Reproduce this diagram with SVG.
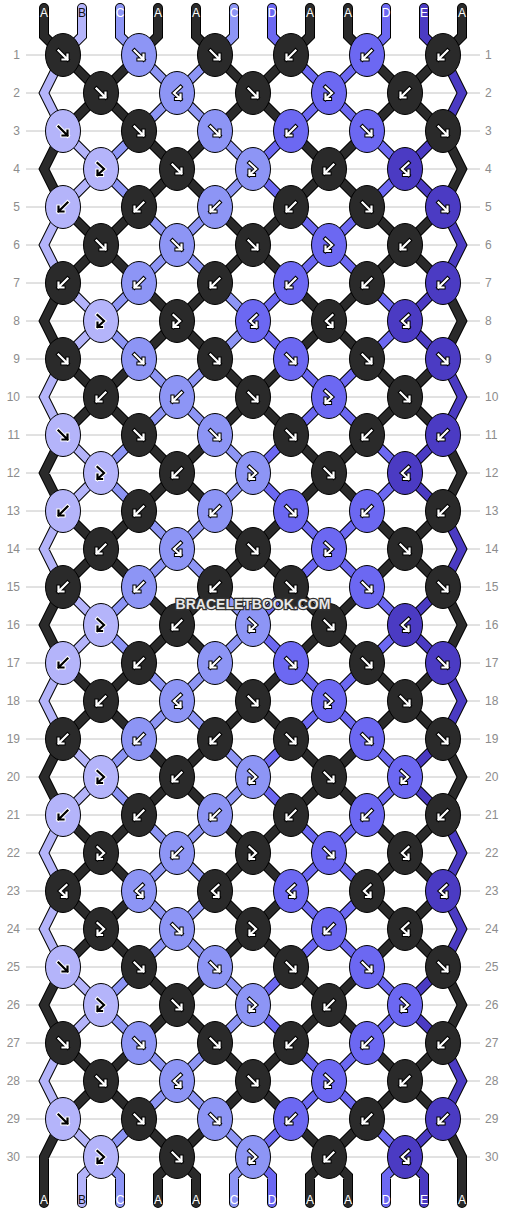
<svg xmlns="http://www.w3.org/2000/svg" width="506" height="1212" viewBox="0 0 506 1212">
<style>
.g{fill:none;stroke:#c4c4c4;stroke-width:1}
.n{font:12px "Liberation Sans",Arial,sans-serif;fill:#8c8c8c}
.nl{text-anchor:end}
.l{font:12px "Liberation Sans",Arial,sans-serif;text-anchor:middle;fill:#fff}
.lb{fill:#111}
ellipse{stroke:#000;stroke-width:1}
.kA{fill:#2a2a2a}.kB{fill:#b4b4fa}.kC{fill:#8d95f5}.kD{fill:#6c68f2}.kE{fill:#4b3bc3}
.so{fill:none;stroke:#000;stroke-width:10;stroke-linecap:round}
.si{fill:none;stroke-width:8;stroke-linecap:round}
.sA{stroke:#2a2a2a}.sB{stroke:#b4b4fa}.sC{stroke:#8d95f5}.sD{stroke:#6c68f2}.sE{stroke:#4b3bc3}
#knots use{stroke:#000;color:#fff}
#knots use.ba{stroke:#fff;color:#000}
.wm{font:bold 14px "Liberation Sans",Arial,sans-serif;text-anchor:middle;fill:#e8e8e8;stroke:#333;stroke-width:2.5;paint-order:stroke}
</style>
<defs>
<g id="af" fill="none" stroke-linecap="square"><path d="M-4.5-4.5L4.5 4.5M-.5 4.5H4.5V-.5" stroke-width="4.2"/><path d="M-4.5-4.5L4.5 4.5M-.5 4.5H4.5V-.5" stroke="currentColor" stroke-width="2.2"/></g>
<g id="ab" fill="none" stroke-linecap="square"><path d="M4.5-4.5L-4.5 4.5M.5 4.5H-4.5V-.5" stroke-width="4.2"/><path d="M4.5-4.5L-4.5 4.5M.5 4.5H-4.5V-.5" stroke="currentColor" stroke-width="2.2"/></g>
<g id="afb" fill="none" stroke-linecap="square"><path d="M-3.5-6L3 0L-3.5 6M1 6H-3.5V1.5" stroke-width="4.2"/><path d="M-3.5-6L3 0L-3.5 6M1 6H-3.5V1.5" stroke="currentColor" stroke-width="2.2"/></g>
<g id="abf" fill="none" stroke-linecap="square"><path d="M3.5-6L-3 0L3.5 6M-1 6H3.5V1.5" stroke-width="4.2"/><path d="M3.5-6L-3 0L3.5 6M-1 6H3.5V1.5" stroke="currentColor" stroke-width="2.2"/></g>
<path id="bo" d="M63 0L44 38L63 76M63 0L101 38L63 76M139 0L101 38L139 76M139 0L177 38L139 76M215 0L177 38L215 76M215 0L253 38L215 76M291 0L253 38L291 76M291 0L329 38L291 76M367 0L329 38L367 76M367 0L405 38L367 76M443 0L405 38L443 76M443 0L462 38L443 76"/>
<g id="b0">
<path class="sA" d="M63 0L44 38L63 76M139 0L177 38L139 76M215 0L177 38L215 76M291 0L329 38L291 76M367 0L329 38L367 76M443 0L462 38L443 76"/>
<path class="sB" d="M63 0L101 38L63 76"/>
<path class="sC" d="M139 0L101 38L139 76M215 0L253 38L215 76"/>
<path class="sD" d="M291 0L253 38L291 76M367 0L405 38L367 76"/>
<path class="sE" d="M443 0L405 38L443 76"/>
</g>
<g id="b1">
<path class="sB" d="M63 0L44 38L63 76"/>
<path class="sA" d="M63 0L101 38L63 76M139 0L101 38L139 76M215 0L253 38L215 76M291 0L253 38L291 76M367 0L405 38L367 76M443 0L405 38L443 76"/>
<path class="sC" d="M139 0L177 38L139 76M215 0L177 38L215 76"/>
<path class="sD" d="M291 0L329 38L291 76M367 0L329 38L367 76"/>
<path class="sE" d="M443 0L462 38L443 76"/>
</g>
</defs>
<rect width="506" height="1212" fill="#fff"/>
<path class="g" d="M26 55H480M26 93H480M26 131H480M26 169H480M26 207H480M26 245H480M26 283H480M26 321H480M26 359H480M26 397H480M26 435H480M26 473H480M26 511H480M26 549H480M26 587H480M26 625H480M26 663H480M26 701H480M26 739H480M26 777H480M26 815H480M26 853H480M26 891H480M26 929H480M26 967H480M26 1005H480M26 1043H480M26 1081H480M26 1119H480M26 1157H480"/>
<g id="rownums" class="n">
<text class="nl" x="20" y="59">1</text><text x="485" y="59">1</text>
<text class="nl" x="20" y="97">2</text><text x="485" y="97">2</text>
<text class="nl" x="20" y="135">3</text><text x="485" y="135">3</text>
<text class="nl" x="20" y="173">4</text><text x="485" y="173">4</text>
<text class="nl" x="20" y="211">5</text><text x="485" y="211">5</text>
<text class="nl" x="20" y="249">6</text><text x="485" y="249">6</text>
<text class="nl" x="20" y="287">7</text><text x="485" y="287">7</text>
<text class="nl" x="20" y="325">8</text><text x="485" y="325">8</text>
<text class="nl" x="20" y="363">9</text><text x="485" y="363">9</text>
<text class="nl" x="20" y="401">10</text><text x="485" y="401">10</text>
<text class="nl" x="20" y="439">11</text><text x="485" y="439">11</text>
<text class="nl" x="20" y="477">12</text><text x="485" y="477">12</text>
<text class="nl" x="20" y="515">13</text><text x="485" y="515">13</text>
<text class="nl" x="20" y="553">14</text><text x="485" y="553">14</text>
<text class="nl" x="20" y="591">15</text><text x="485" y="591">15</text>
<text class="nl" x="20" y="629">16</text><text x="485" y="629">16</text>
<text class="nl" x="20" y="667">17</text><text x="485" y="667">17</text>
<text class="nl" x="20" y="705">18</text><text x="485" y="705">18</text>
<text class="nl" x="20" y="743">19</text><text x="485" y="743">19</text>
<text class="nl" x="20" y="781">20</text><text x="485" y="781">20</text>
<text class="nl" x="20" y="819">21</text><text x="485" y="819">21</text>
<text class="nl" x="20" y="857">22</text><text x="485" y="857">22</text>
<text class="nl" x="20" y="895">23</text><text x="485" y="895">23</text>
<text class="nl" x="20" y="933">24</text><text x="485" y="933">24</text>
<text class="nl" x="20" y="971">25</text><text x="485" y="971">25</text>
<text class="nl" x="20" y="1009">26</text><text x="485" y="1009">26</text>
<text class="nl" x="20" y="1047">27</text><text x="485" y="1047">27</text>
<text class="nl" x="20" y="1085">28</text><text x="485" y="1085">28</text>
<text class="nl" x="20" y="1123">29</text><text x="485" y="1123">29</text>
<text class="nl" x="20" y="1161">30</text><text x="485" y="1161">30</text>
</g>
<g id="connectors">
<g class="so">
<path d="M44 8V36L63 55M82 8V36L63 55M120 8V36L139 55M158 8V36L139 55M196 8V36L215 55M234 8V36L215 55M272 8V36L291 55M310 8V36L291 55M348 8V36L367 55M386 8V36L367 55M424 8V36L443 55M462 8V36L443 55"/>
<use href="#bo" y="55"/><use href="#bo" y="131"/><use href="#bo" y="207"/><use href="#bo" y="283"/><use href="#bo" y="359"/><use href="#bo" y="435"/><use href="#bo" y="511"/><use href="#bo" y="587"/><use href="#bo" y="663"/><use href="#bo" y="739"/><use href="#bo" y="815"/><use href="#bo" y="891"/><use href="#bo" y="967"/><use href="#bo" y="1043"/>
<path d="M63 1119L44 1157V1203M63 1119L101 1157L82 1176V1203M139 1119L101 1157L120 1176V1203M139 1119L177 1157L158 1176V1203M215 1119L177 1157L196 1176V1203M215 1119L253 1157L234 1176V1203M291 1119L253 1157L272 1176V1203M291 1119L329 1157L310 1176V1203M367 1119L329 1157L348 1176V1203M367 1119L405 1157L386 1176V1203M443 1119L405 1157L424 1176V1203M443 1119L462 1157V1203"/>
</g>
<g class="si">
<path class="sA" d="M44 8V36L63 55M158 8V36L139 55M196 8V36L215 55M310 8V36L291 55M348 8V36L367 55M462 8V36L443 55"/>
<path class="sB" d="M82 8V36L63 55"/>
<path class="sC" d="M120 8V36L139 55M234 8V36L215 55"/>
<path class="sD" d="M272 8V36L291 55M386 8V36L367 55"/>
<path class="sE" d="M424 8V36L443 55"/>
<use href="#b1" y="55"/><use href="#b0" y="131"/><use href="#b1" y="207"/><use href="#b0" y="283"/><use href="#b1" y="359"/><use href="#b0" y="435"/><use href="#b1" y="511"/><use href="#b0" y="587"/><use href="#b1" y="663"/><use href="#b0" y="739"/><use href="#b1" y="815"/><use href="#b1" y="891"/><use href="#b0" y="967"/><use href="#b1" y="1043"/>
<path class="sA" d="M63 1119L44 1157V1203M139 1119L177 1157L158 1176V1203M215 1119L177 1157L196 1176V1203M291 1119L329 1157L310 1176V1203M367 1119L329 1157L348 1176V1203M443 1119L462 1157V1203"/>
<path class="sB" d="M63 1119L101 1157L82 1176V1203"/>
<path class="sC" d="M139 1119L101 1157L120 1176V1203M215 1119L253 1157L234 1176V1203"/>
<path class="sD" d="M291 1119L253 1157L272 1176V1203M367 1119L405 1157L386 1176V1203"/>
<path class="sE" d="M443 1119L405 1157L424 1176V1203"/>
</g>
</g>
<g id="labels" class="l">
<text x="44" y="17">A</text><text class="lb" x="82" y="17">B</text><text x="120" y="17">C</text><text x="158" y="17">A</text><text x="196" y="17">A</text><text x="234" y="17">C</text><text x="272" y="17">D</text><text x="310" y="17">A</text><text x="348" y="17">A</text><text x="386" y="17">D</text><text x="424" y="17">E</text><text x="462" y="17">A</text>
<text x="44" y="1204">A</text><text class="lb" x="82" y="1204">B</text><text x="120" y="1204">C</text><text x="158" y="1204">A</text><text x="196" y="1204">A</text><text x="234" y="1204">C</text><text x="272" y="1204">D</text><text x="310" y="1204">A</text><text x="348" y="1204">A</text><text x="386" y="1204">D</text><text x="424" y="1204">E</text><text x="462" y="1204">A</text>
</g>
<g id="knots">
<g id="k1-1" transform="translate(63 55)"><ellipse class="kA" rx="17.5" ry="21.5"/><use href="#af"/></g>
<g id="k1-2" transform="translate(139 55)"><ellipse class="kC" rx="17.5" ry="21.5"/><use href="#af"/></g>
<g id="k1-3" transform="translate(215 55)"><ellipse class="kA" rx="17.5" ry="21.5"/><use href="#af"/></g>
<g id="k1-4" transform="translate(291 55)"><ellipse class="kA" rx="17.5" ry="21.5"/><use href="#ab"/></g>
<g id="k1-5" transform="translate(367 55)"><ellipse class="kD" rx="17.5" ry="21.5"/><use href="#ab"/></g>
<g id="k1-6" transform="translate(443 55)"><ellipse class="kA" rx="17.5" ry="21.5"/><use href="#ab"/></g>
<g id="k2-1" transform="translate(101 93)"><ellipse class="kA" rx="17.5" ry="21.5"/><use href="#af"/></g>
<g id="k2-2" transform="translate(177 93)"><ellipse class="kC" rx="17.5" ry="21.5"/><use href="#abf"/></g>
<g id="k2-3" transform="translate(253 93)"><ellipse class="kA" rx="17.5" ry="21.5"/><use href="#af"/></g>
<g id="k2-4" transform="translate(329 93)"><ellipse class="kD" rx="17.5" ry="21.5"/><use href="#afb"/></g>
<g id="k2-5" transform="translate(405 93)"><ellipse class="kA" rx="17.5" ry="21.5"/><use href="#ab"/></g>
<g id="k3-1" transform="translate(63 131)"><ellipse class="kB" rx="17.5" ry="21.5"/><use class="ba" href="#af"/></g>
<g id="k3-2" transform="translate(139 131)"><ellipse class="kA" rx="17.5" ry="21.5"/><use href="#af"/></g>
<g id="k3-3" transform="translate(215 131)"><ellipse class="kC" rx="17.5" ry="21.5"/><use href="#af"/></g>
<g id="k3-4" transform="translate(291 131)"><ellipse class="kD" rx="17.5" ry="21.5"/><use href="#ab"/></g>
<g id="k3-5" transform="translate(367 131)"><ellipse class="kD" rx="17.5" ry="21.5"/><use href="#af"/></g>
<g id="k3-6" transform="translate(443 131)"><ellipse class="kA" rx="17.5" ry="21.5"/><use href="#af"/></g>
<g id="k4-1" transform="translate(101 169)"><ellipse class="kB" rx="17.5" ry="21.5"/><use class="ba" href="#afb"/></g>
<g id="k4-2" transform="translate(177 169)"><ellipse class="kA" rx="17.5" ry="21.5"/><use href="#af"/></g>
<g id="k4-3" transform="translate(253 169)"><ellipse class="kC" rx="17.5" ry="21.5"/><use href="#afb"/></g>
<g id="k4-4" transform="translate(329 169)"><ellipse class="kA" rx="17.5" ry="21.5"/><use href="#ab"/></g>
<g id="k4-5" transform="translate(405 169)"><ellipse class="kE" rx="17.5" ry="21.5"/><use href="#abf"/></g>
<g id="k5-1" transform="translate(63 207)"><ellipse class="kB" rx="17.5" ry="21.5"/><use class="ba" href="#ab"/></g>
<g id="k5-2" transform="translate(139 207)"><ellipse class="kA" rx="17.5" ry="21.5"/><use href="#ab"/></g>
<g id="k5-3" transform="translate(215 207)"><ellipse class="kC" rx="17.5" ry="21.5"/><use href="#ab"/></g>
<g id="k5-4" transform="translate(291 207)"><ellipse class="kA" rx="17.5" ry="21.5"/><use href="#ab"/></g>
<g id="k5-5" transform="translate(367 207)"><ellipse class="kA" rx="17.5" ry="21.5"/><use href="#af"/></g>
<g id="k5-6" transform="translate(443 207)"><ellipse class="kE" rx="17.5" ry="21.5"/><use href="#af"/></g>
<g id="k6-1" transform="translate(101 245)"><ellipse class="kA" rx="17.5" ry="21.5"/><use href="#af"/></g>
<g id="k6-2" transform="translate(177 245)"><ellipse class="kC" rx="17.5" ry="21.5"/><use href="#af"/></g>
<g id="k6-3" transform="translate(253 245)"><ellipse class="kA" rx="17.5" ry="21.5"/><use href="#af"/></g>
<g id="k6-4" transform="translate(329 245)"><ellipse class="kD" rx="17.5" ry="21.5"/><use href="#afb"/></g>
<g id="k6-5" transform="translate(405 245)"><ellipse class="kA" rx="17.5" ry="21.5"/><use href="#ab"/></g>
<g id="k7-1" transform="translate(63 283)"><ellipse class="kA" rx="17.5" ry="21.5"/><use href="#ab"/></g>
<g id="k7-2" transform="translate(139 283)"><ellipse class="kC" rx="17.5" ry="21.5"/><use href="#ab"/></g>
<g id="k7-3" transform="translate(215 283)"><ellipse class="kA" rx="17.5" ry="21.5"/><use href="#ab"/></g>
<g id="k7-4" transform="translate(291 283)"><ellipse class="kD" rx="17.5" ry="21.5"/><use href="#ab"/></g>
<g id="k7-5" transform="translate(367 283)"><ellipse class="kA" rx="17.5" ry="21.5"/><use href="#ab"/></g>
<g id="k7-6" transform="translate(443 283)"><ellipse class="kE" rx="17.5" ry="21.5"/><use href="#ab"/></g>
<g id="k8-1" transform="translate(101 321)"><ellipse class="kB" rx="17.5" ry="21.5"/><use class="ba" href="#afb"/></g>
<g id="k8-2" transform="translate(177 321)"><ellipse class="kA" rx="17.5" ry="21.5"/><use href="#afb"/></g>
<g id="k8-3" transform="translate(253 321)"><ellipse class="kD" rx="17.5" ry="21.5"/><use href="#abf"/></g>
<g id="k8-4" transform="translate(329 321)"><ellipse class="kA" rx="17.5" ry="21.5"/><use href="#abf"/></g>
<g id="k8-5" transform="translate(405 321)"><ellipse class="kE" rx="17.5" ry="21.5"/><use href="#abf"/></g>
<g id="k9-1" transform="translate(63 359)"><ellipse class="kA" rx="17.5" ry="21.5"/><use href="#af"/></g>
<g id="k9-2" transform="translate(139 359)"><ellipse class="kC" rx="17.5" ry="21.5"/><use href="#af"/></g>
<g id="k9-3" transform="translate(215 359)"><ellipse class="kA" rx="17.5" ry="21.5"/><use href="#af"/></g>
<g id="k9-4" transform="translate(291 359)"><ellipse class="kD" rx="17.5" ry="21.5"/><use href="#af"/></g>
<g id="k9-5" transform="translate(367 359)"><ellipse class="kA" rx="17.5" ry="21.5"/><use href="#af"/></g>
<g id="k9-6" transform="translate(443 359)"><ellipse class="kE" rx="17.5" ry="21.5"/><use href="#af"/></g>
<g id="k10-1" transform="translate(101 397)"><ellipse class="kA" rx="17.5" ry="21.5"/><use href="#ab"/></g>
<g id="k10-2" transform="translate(177 397)"><ellipse class="kC" rx="17.5" ry="21.5"/><use href="#ab"/></g>
<g id="k10-3" transform="translate(253 397)"><ellipse class="kA" rx="17.5" ry="21.5"/><use href="#af"/></g>
<g id="k10-4" transform="translate(329 397)"><ellipse class="kD" rx="17.5" ry="21.5"/><use href="#afb"/></g>
<g id="k10-5" transform="translate(405 397)"><ellipse class="kA" rx="17.5" ry="21.5"/><use href="#af"/></g>
<g id="k11-1" transform="translate(63 435)"><ellipse class="kB" rx="17.5" ry="21.5"/><use class="ba" href="#af"/></g>
<g id="k11-2" transform="translate(139 435)"><ellipse class="kA" rx="17.5" ry="21.5"/><use href="#af"/></g>
<g id="k11-3" transform="translate(215 435)"><ellipse class="kC" rx="17.5" ry="21.5"/><use href="#af"/></g>
<g id="k11-4" transform="translate(291 435)"><ellipse class="kA" rx="17.5" ry="21.5"/><use href="#af"/></g>
<g id="k11-5" transform="translate(367 435)"><ellipse class="kA" rx="17.5" ry="21.5"/><use href="#ab"/></g>
<g id="k11-6" transform="translate(443 435)"><ellipse class="kE" rx="17.5" ry="21.5"/><use href="#ab"/></g>
<g id="k12-1" transform="translate(101 473)"><ellipse class="kB" rx="17.5" ry="21.5"/><use class="ba" href="#afb"/></g>
<g id="k12-2" transform="translate(177 473)"><ellipse class="kA" rx="17.5" ry="21.5"/><use href="#ab"/></g>
<g id="k12-3" transform="translate(253 473)"><ellipse class="kC" rx="17.5" ry="21.5"/><use href="#afb"/></g>
<g id="k12-4" transform="translate(329 473)"><ellipse class="kA" rx="17.5" ry="21.5"/><use href="#af"/></g>
<g id="k12-5" transform="translate(405 473)"><ellipse class="kE" rx="17.5" ry="21.5"/><use href="#abf"/></g>
<g id="k13-1" transform="translate(63 511)"><ellipse class="kB" rx="17.5" ry="21.5"/><use class="ba" href="#ab"/></g>
<g id="k13-2" transform="translate(139 511)"><ellipse class="kA" rx="17.5" ry="21.5"/><use href="#ab"/></g>
<g id="k13-3" transform="translate(215 511)"><ellipse class="kC" rx="17.5" ry="21.5"/><use href="#ab"/></g>
<g id="k13-4" transform="translate(291 511)"><ellipse class="kD" rx="17.5" ry="21.5"/><use href="#af"/></g>
<g id="k13-5" transform="translate(367 511)"><ellipse class="kD" rx="17.5" ry="21.5"/><use href="#ab"/></g>
<g id="k13-6" transform="translate(443 511)"><ellipse class="kA" rx="17.5" ry="21.5"/><use href="#ab"/></g>
<g id="k14-1" transform="translate(101 549)"><ellipse class="kA" rx="17.5" ry="21.5"/><use href="#ab"/></g>
<g id="k14-2" transform="translate(177 549)"><ellipse class="kC" rx="17.5" ry="21.5"/><use href="#abf"/></g>
<g id="k14-3" transform="translate(253 549)"><ellipse class="kA" rx="17.5" ry="21.5"/><use href="#af"/></g>
<g id="k14-4" transform="translate(329 549)"><ellipse class="kD" rx="17.5" ry="21.5"/><use href="#afb"/></g>
<g id="k14-5" transform="translate(405 549)"><ellipse class="kA" rx="17.5" ry="21.5"/><use href="#af"/></g>
<g id="k15-1" transform="translate(63 587)"><ellipse class="kA" rx="17.5" ry="21.5"/><use href="#ab"/></g>
<g id="k15-2" transform="translate(139 587)"><ellipse class="kC" rx="17.5" ry="21.5"/><use href="#ab"/></g>
<g id="k15-3" transform="translate(215 587)"><ellipse class="kA" rx="17.5" ry="21.5"/><use href="#ab"/></g>
<g id="k15-4" transform="translate(291 587)"><ellipse class="kA" rx="17.5" ry="21.5"/><use href="#af"/></g>
<g id="k15-5" transform="translate(367 587)"><ellipse class="kD" rx="17.5" ry="21.5"/><use href="#af"/></g>
<g id="k15-6" transform="translate(443 587)"><ellipse class="kA" rx="17.5" ry="21.5"/><use href="#af"/></g>
<g id="k16-1" transform="translate(101 625)"><ellipse class="kB" rx="17.5" ry="21.5"/><use class="ba" href="#afb"/></g>
<g id="k16-2" transform="translate(177 625)"><ellipse class="kA" rx="17.5" ry="21.5"/><use href="#ab"/></g>
<g id="k16-3" transform="translate(253 625)"><ellipse class="kC" rx="17.5" ry="21.5"/><use href="#afb"/></g>
<g id="k16-4" transform="translate(329 625)"><ellipse class="kA" rx="17.5" ry="21.5"/><use href="#af"/></g>
<g id="k16-5" transform="translate(405 625)"><ellipse class="kE" rx="17.5" ry="21.5"/><use href="#abf"/></g>
<g id="k17-1" transform="translate(63 663)"><ellipse class="kB" rx="17.5" ry="21.5"/><use class="ba" href="#ab"/></g>
<g id="k17-2" transform="translate(139 663)"><ellipse class="kA" rx="17.5" ry="21.5"/><use href="#ab"/></g>
<g id="k17-3" transform="translate(215 663)"><ellipse class="kC" rx="17.5" ry="21.5"/><use href="#ab"/></g>
<g id="k17-4" transform="translate(291 663)"><ellipse class="kD" rx="17.5" ry="21.5"/><use href="#af"/></g>
<g id="k17-5" transform="translate(367 663)"><ellipse class="kA" rx="17.5" ry="21.5"/><use href="#af"/></g>
<g id="k17-6" transform="translate(443 663)"><ellipse class="kE" rx="17.5" ry="21.5"/><use href="#af"/></g>
<g id="k18-1" transform="translate(101 701)"><ellipse class="kA" rx="17.5" ry="21.5"/><use href="#ab"/></g>
<g id="k18-2" transform="translate(177 701)"><ellipse class="kC" rx="17.5" ry="21.5"/><use href="#abf"/></g>
<g id="k18-3" transform="translate(253 701)"><ellipse class="kA" rx="17.5" ry="21.5"/><use href="#af"/></g>
<g id="k18-4" transform="translate(329 701)"><ellipse class="kD" rx="17.5" ry="21.5"/><use href="#afb"/></g>
<g id="k18-5" transform="translate(405 701)"><ellipse class="kA" rx="17.5" ry="21.5"/><use href="#af"/></g>
<g id="k19-1" transform="translate(63 739)"><ellipse class="kA" rx="17.5" ry="21.5"/><use href="#ab"/></g>
<g id="k19-2" transform="translate(139 739)"><ellipse class="kC" rx="17.5" ry="21.5"/><use href="#ab"/></g>
<g id="k19-3" transform="translate(215 739)"><ellipse class="kA" rx="17.5" ry="21.5"/><use href="#ab"/></g>
<g id="k19-4" transform="translate(291 739)"><ellipse class="kA" rx="17.5" ry="21.5"/><use href="#af"/></g>
<g id="k19-5" transform="translate(367 739)"><ellipse class="kD" rx="17.5" ry="21.5"/><use href="#af"/></g>
<g id="k19-6" transform="translate(443 739)"><ellipse class="kA" rx="17.5" ry="21.5"/><use href="#af"/></g>
<g id="k20-1" transform="translate(101 777)"><ellipse class="kB" rx="17.5" ry="21.5"/><use class="ba" href="#afb"/></g>
<g id="k20-2" transform="translate(177 777)"><ellipse class="kA" rx="17.5" ry="21.5"/><use href="#ab"/></g>
<g id="k20-3" transform="translate(253 777)"><ellipse class="kC" rx="17.5" ry="21.5"/><use href="#afb"/></g>
<g id="k20-4" transform="translate(329 777)"><ellipse class="kA" rx="17.5" ry="21.5"/><use href="#af"/></g>
<g id="k20-5" transform="translate(405 777)"><ellipse class="kD" rx="17.5" ry="21.5"/><use href="#afb"/></g>
<g id="k21-1" transform="translate(63 815)"><ellipse class="kB" rx="17.5" ry="21.5"/><use class="ba" href="#ab"/></g>
<g id="k21-2" transform="translate(139 815)"><ellipse class="kA" rx="17.5" ry="21.5"/><use href="#ab"/></g>
<g id="k21-3" transform="translate(215 815)"><ellipse class="kC" rx="17.5" ry="21.5"/><use href="#ab"/></g>
<g id="k21-4" transform="translate(291 815)"><ellipse class="kA" rx="17.5" ry="21.5"/><use href="#ab"/></g>
<g id="k21-5" transform="translate(367 815)"><ellipse class="kD" rx="17.5" ry="21.5"/><use href="#ab"/></g>
<g id="k21-6" transform="translate(443 815)"><ellipse class="kA" rx="17.5" ry="21.5"/><use href="#ab"/></g>
<g id="k22-1" transform="translate(101 853)"><ellipse class="kA" rx="17.5" ry="21.5"/><use href="#afb"/></g>
<g id="k22-2" transform="translate(177 853)"><ellipse class="kC" rx="17.5" ry="21.5"/><use href="#ab"/></g>
<g id="k22-3" transform="translate(253 853)"><ellipse class="kA" rx="17.5" ry="21.5"/><use href="#afb"/></g>
<g id="k22-4" transform="translate(329 853)"><ellipse class="kD" rx="17.5" ry="21.5"/><use href="#af"/></g>
<g id="k22-5" transform="translate(405 853)"><ellipse class="kA" rx="17.5" ry="21.5"/><use href="#abf"/></g>
<g id="k23-1" transform="translate(63 891)"><ellipse class="kA" rx="17.5" ry="21.5"/><use href="#abf"/></g>
<g id="k23-2" transform="translate(139 891)"><ellipse class="kC" rx="17.5" ry="21.5"/><use href="#abf"/></g>
<g id="k23-3" transform="translate(215 891)"><ellipse class="kA" rx="17.5" ry="21.5"/><use href="#abf"/></g>
<g id="k23-4" transform="translate(291 891)"><ellipse class="kD" rx="17.5" ry="21.5"/><use href="#abf"/></g>
<g id="k23-5" transform="translate(367 891)"><ellipse class="kA" rx="17.5" ry="21.5"/><use href="#abf"/></g>
<g id="k23-6" transform="translate(443 891)"><ellipse class="kE" rx="17.5" ry="21.5"/><use href="#abf"/></g>
<g id="k24-1" transform="translate(101 929)"><ellipse class="kA" rx="17.5" ry="21.5"/><use href="#afb"/></g>
<g id="k24-2" transform="translate(177 929)"><ellipse class="kC" rx="17.5" ry="21.5"/><use href="#af"/></g>
<g id="k24-3" transform="translate(253 929)"><ellipse class="kA" rx="17.5" ry="21.5"/><use href="#afb"/></g>
<g id="k24-4" transform="translate(329 929)"><ellipse class="kD" rx="17.5" ry="21.5"/><use href="#ab"/></g>
<g id="k24-5" transform="translate(405 929)"><ellipse class="kA" rx="17.5" ry="21.5"/><use href="#abf"/></g>
<g id="k25-1" transform="translate(63 967)"><ellipse class="kB" rx="17.5" ry="21.5"/><use class="ba" href="#af"/></g>
<g id="k25-2" transform="translate(139 967)"><ellipse class="kA" rx="17.5" ry="21.5"/><use href="#af"/></g>
<g id="k25-3" transform="translate(215 967)"><ellipse class="kC" rx="17.5" ry="21.5"/><use href="#af"/></g>
<g id="k25-4" transform="translate(291 967)"><ellipse class="kA" rx="17.5" ry="21.5"/><use href="#af"/></g>
<g id="k25-5" transform="translate(367 967)"><ellipse class="kD" rx="17.5" ry="21.5"/><use href="#af"/></g>
<g id="k25-6" transform="translate(443 967)"><ellipse class="kA" rx="17.5" ry="21.5"/><use href="#af"/></g>
<g id="k26-1" transform="translate(101 1005)"><ellipse class="kB" rx="17.5" ry="21.5"/><use class="ba" href="#afb"/></g>
<g id="k26-2" transform="translate(177 1005)"><ellipse class="kA" rx="17.5" ry="21.5"/><use href="#af"/></g>
<g id="k26-3" transform="translate(253 1005)"><ellipse class="kC" rx="17.5" ry="21.5"/><use href="#afb"/></g>
<g id="k26-4" transform="translate(329 1005)"><ellipse class="kA" rx="17.5" ry="21.5"/><use href="#ab"/></g>
<g id="k26-5" transform="translate(405 1005)"><ellipse class="kD" rx="17.5" ry="21.5"/><use href="#afb"/></g>
<g id="k27-1" transform="translate(63 1043)"><ellipse class="kA" rx="17.5" ry="21.5"/><use href="#af"/></g>
<g id="k27-2" transform="translate(139 1043)"><ellipse class="kC" rx="17.5" ry="21.5"/><use href="#af"/></g>
<g id="k27-3" transform="translate(215 1043)"><ellipse class="kA" rx="17.5" ry="21.5"/><use href="#af"/></g>
<g id="k27-4" transform="translate(291 1043)"><ellipse class="kA" rx="17.5" ry="21.5"/><use href="#ab"/></g>
<g id="k27-5" transform="translate(367 1043)"><ellipse class="kD" rx="17.5" ry="21.5"/><use href="#ab"/></g>
<g id="k27-6" transform="translate(443 1043)"><ellipse class="kA" rx="17.5" ry="21.5"/><use href="#ab"/></g>
<g id="k28-1" transform="translate(101 1081)"><ellipse class="kA" rx="17.5" ry="21.5"/><use href="#af"/></g>
<g id="k28-2" transform="translate(177 1081)"><ellipse class="kC" rx="17.5" ry="21.5"/><use href="#abf"/></g>
<g id="k28-3" transform="translate(253 1081)"><ellipse class="kA" rx="17.5" ry="21.5"/><use href="#af"/></g>
<g id="k28-4" transform="translate(329 1081)"><ellipse class="kD" rx="17.5" ry="21.5"/><use href="#afb"/></g>
<g id="k28-5" transform="translate(405 1081)"><ellipse class="kA" rx="17.5" ry="21.5"/><use href="#ab"/></g>
<g id="k29-1" transform="translate(63 1119)"><ellipse class="kB" rx="17.5" ry="21.5"/><use class="ba" href="#af"/></g>
<g id="k29-2" transform="translate(139 1119)"><ellipse class="kA" rx="17.5" ry="21.5"/><use href="#af"/></g>
<g id="k29-3" transform="translate(215 1119)"><ellipse class="kC" rx="17.5" ry="21.5"/><use href="#af"/></g>
<g id="k29-4" transform="translate(291 1119)"><ellipse class="kD" rx="17.5" ry="21.5"/><use href="#ab"/></g>
<g id="k29-5" transform="translate(367 1119)"><ellipse class="kA" rx="17.5" ry="21.5"/><use href="#ab"/></g>
<g id="k29-6" transform="translate(443 1119)"><ellipse class="kE" rx="17.5" ry="21.5"/><use href="#ab"/></g>
<g id="k30-1" transform="translate(101 1157)"><ellipse class="kB" rx="17.5" ry="21.5"/><use class="ba" href="#afb"/></g>
<g id="k30-2" transform="translate(177 1157)"><ellipse class="kA" rx="17.5" ry="21.5"/><use href="#af"/></g>
<g id="k30-3" transform="translate(253 1157)"><ellipse class="kC" rx="17.5" ry="21.5"/><use href="#afb"/></g>
<g id="k30-4" transform="translate(329 1157)"><ellipse class="kA" rx="17.5" ry="21.5"/><use href="#ab"/></g>
<g id="k30-5" transform="translate(405 1157)"><ellipse class="kE" rx="17.5" ry="21.5"/><use href="#abf"/></g>
</g>
<text class="wm" x="253" y="609">BRACELETBOOK.COM</text>
</svg>
